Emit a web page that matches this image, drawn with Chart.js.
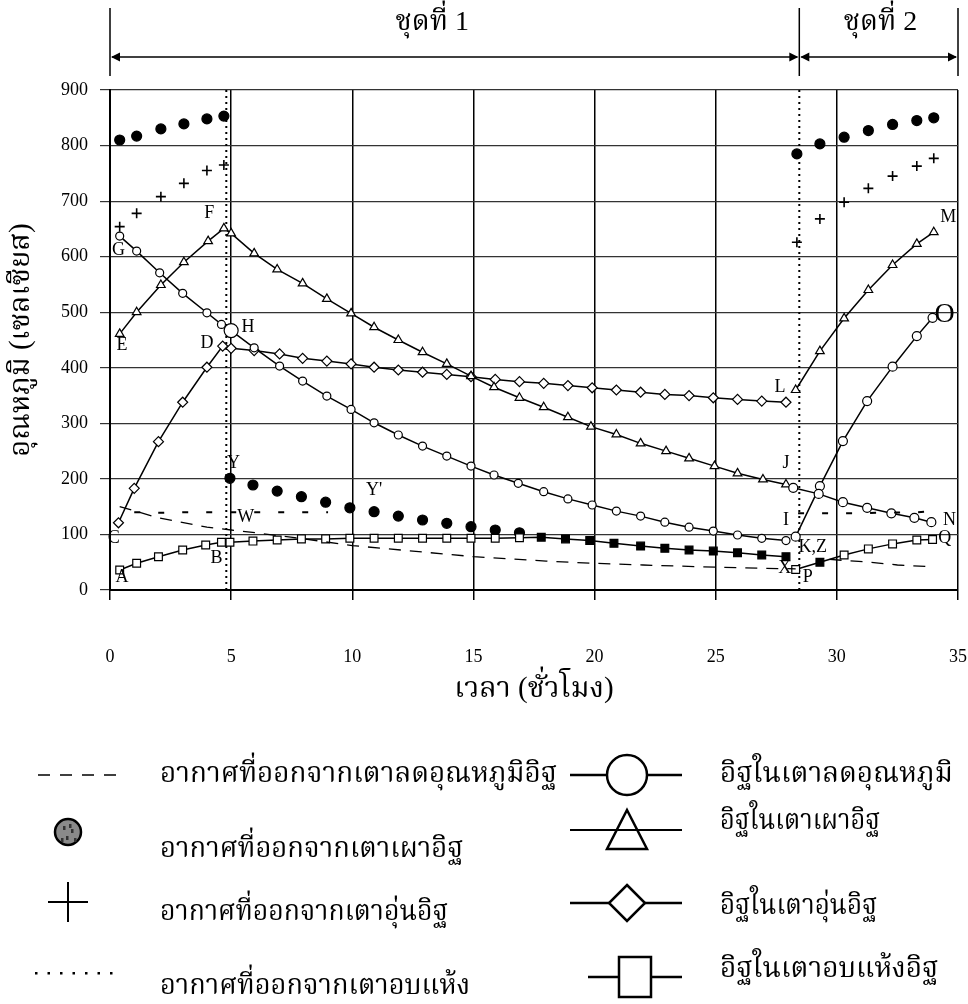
<!DOCTYPE html>
<html lang="th">
<head>
<meta charset="UTF-8">
<title>อุณหภูมิ เตาเผาอิฐ</title>
<script src="https://cdn.jsdelivr.net/npm/chart.js"></script>
<style>
  body { margin: 0; background: #fff; overflow: hidden; }
  #wrap { width: 968px; height: 1004px; position: relative; }
</style>
</head>
<body>
<div id="wrap"><canvas id="chart"></canvas></div>
<script>
// ---- data (hours / degrees C) ----
const xTicks = [0, 5, 10, 15, 20, 25, 30, 35];
const yTicks = [0, 100, 200, 300, 400, 500, 600, 700, 800, 900];

// batch 1 start (before the first dotted line) and batch 2 sample times
const tStart1 = [0.4, 1.1, 2.1, 3.05, 4.0, 4.7];
const tBatch2 = [28.35, 29.3, 30.3, 31.3, 32.3, 33.3, 34.0];

// air leaving cooling kiln (dashed)
const coolAirX1 = [0.4, 2, 4, 5, 6, 8, 10, 12, 15, 18, 20, 22, 25, 28.3];
const coolAirY1 = [150, 130, 113, 108, 103, 92, 80, 72, 60, 52, 48, 45, 41, 38];
const coolAirX2 = [29.7, 31.4, 32.5, 33.8];
const coolAirY2 = [55, 50, 45, 42];

// air leaving firing kiln (filled dots)
const fireAirY1 = [810, 817, 830, 839, 848, 853];
const fireAirX1b = [4.95, 5.9, 6.9, 7.9, 8.9, 9.9, 10.9, 11.9, 12.9, 13.9, 14.9, 15.9, 16.9];
const fireAirY1b = [201, 189, 178, 168, 158, 148, 141, 133, 126, 120, 114, 108, 103];
const fireAirY2 = [785, 803, 815, 827, 838, 845, 850];

// air leaving warming kiln (+)
const warmAirY1 = [654, 678, 708, 732, 755, 765];
const warmAirY2 = [626, 668, 698, 723, 745, 763, 777];

// air leaving dryer (dotted)
const dryAirX1 = [1.0, 2.0, 3.0, 4.0, 5.0, 6.0, 7.0, 8.0, 9.0];
const dryAirY1 = [140, 139, 140, 140, 140, 140, 140, 140, 140];
const dryAirX2 = [28.4, 29.4, 30.4, 33.3, 34.0];
const dryAirY2 = [138, 138, 138, 140, 142];

// bricks in cooling kiln (circles)
const coolBrickX1 = [0.4, 1.1, 2.05, 3.0, 4.0, 4.6, 5.0, 5.95, 7.0, 7.95, 8.95, 9.95, 10.9, 11.9, 12.9,
  13.9, 14.9, 15.85, 16.85, 17.9, 18.9, 19.9, 20.9, 21.9, 22.9, 23.9, 24.9, 25.9, 26.9, 27.9];
const coolBrickY1 = [637, 610, 571, 534, 499, 478, 467, 436, 403, 376, 349, 325, 301, 279, 259,
  241, 223, 207, 192, 177, 164, 153, 142, 133, 122, 113, 106, 99, 93, 89];
const coolBrickX2 = [28.2, 29.25, 30.25, 31.25, 32.25, 33.2, 33.9];
const coolBrickY2 = [184, 173, 158, 148, 138, 130, 122];
const riseBrickX2 = [28.3, 29.3, 30.25, 31.25, 32.3, 33.3, 33.95];
const riseBrickY2 = [96, 187, 268, 340, 402, 457, 490];

// bricks in firing kiln (triangles)
const fireBrickX1 = [0.4, 1.1, 2.1, 3.05, 4.05, 4.7, 5.0, 5.95, 6.9, 7.95, 8.95, 9.95, 10.9, 11.9, 12.9,
  13.9, 14.9, 15.85, 16.9, 17.9, 18.9, 19.85, 20.9, 21.9, 22.95, 23.9, 24.95, 25.9, 26.95, 27.9];
const fireBrickY1 = [461, 500, 549, 590, 628, 651, 642, 606, 577, 552, 524, 498, 473, 450, 428,
  407, 385, 365, 346, 329, 311, 294, 280, 264, 250, 237, 223, 210, 199, 190];
const fireBrickX2 = [28.3, 29.3, 30.3, 31.3, 32.3, 33.3, 34.0];
const fireBrickY2 = [360, 430, 489, 540, 585, 623, 644];

// bricks in warming kiln (diamonds)
const warmBrickX1 = [0.35, 1.0, 2.0, 3.0, 4.0, 4.65, 5.0, 5.95, 7.0, 7.95, 8.95, 9.95, 10.9, 11.9, 12.9,
  13.9, 14.9, 15.9, 16.9, 17.9, 18.9, 19.9, 20.9, 21.9, 22.9, 23.9, 24.9, 25.9, 26.9, 27.9];
const warmBrickY1 = [121, 183, 267, 338, 401, 439, 435, 431, 425, 417, 412, 407, 401, 396, 392,
  388, 384, 379, 375, 372, 368, 364, 360, 356, 352, 350, 346, 343, 340, 338];

// bricks in dryer (squares)
const dryBrickX1 = [0.4, 1.1, 2.0, 3.0, 3.95, 4.6, 4.95, 5.9, 6.9, 7.9, 8.9, 9.9, 10.9, 11.9, 12.9,
  13.9, 14.9, 15.9, 16.9, 17.8, 18.8, 19.8, 20.8, 21.9, 22.9, 23.9, 24.9, 25.9, 26.9, 27.9];
const dryBrickY1 = [36, 48, 60, 72, 81, 86, 86, 88, 90, 92, 92, 93, 93, 93, 93,
  93, 93, 93, 94, 95, 92, 89, 84, 79, 75, 72, 70, 67, 63, 60];
const dryBrickX2 = [28.3, 29.3, 30.3, 31.3, 32.3, 33.3, 33.95];
const dryBrickY2 = [37, 50, 63, 74, 83, 90, 91];

// batch boundaries (dotted verticals) and point letters
const batchLines = [4.8, 28.45];
const batchNames = ['ชุดที่ 1', 'ชุดที่ 2'];
const pointLabels = [
  ['A', 0.5, 23], ['B', 4.4, 58], ['C', 0.15, 94], ['D', 4.0, 445], ['E', 0.5, 441],
  ['F', 4.1, 678], ['G', 0.35, 612], ['H', 5.7, 473], ['I', 27.9, 126], ['J', 27.9, 228],
  ['K,Z', 29.0, 77], ['L', 27.65, 365], ['M', 34.6, 671], ['N', 34.65, 126], ['O', 34.45, 495],
  ['P', 28.8, 23], ['Q', 34.45, 94], ['W', 5.6, 131], ['X', 27.85, 40], ['Y', 5.1, 228], ["Y'", 10.9, 180]
];

const legendLeft = ['อากาศที่ออกจากเตาลดอุณหภูมิอิฐ', 'อากาศที่ออกจากเตาเผาอิฐ', 'อากาศที่ออกจากเตาอุ่นอิฐ', 'อากาศที่ออกจากเตาอบแห้ง'];
const legendRight = ['อิฐในเตาลดอุณหภูมิ', 'อิฐในเตาเผาอิฐ', 'อิฐในเตาอุ่นอิฐ', 'อิฐในเตาอบแห้งอิฐ'];

// ---- helpers ----
const SERIF = '"Liberation Serif", "Noto Serif Thai", "Noto Sans Thai", serif';
const pts = (xs, ys) => xs.map((x, i) => ({ x: x, y: ys[i] }));

function lineSet(data, style, extra) {
  return Object.assign({
    data: data,
    borderColor: '#000',
    borderWidth: 1.5,
    pointStyle: style,
    pointRadius: 4,
    pointBorderColor: '#000',
    pointBackgroundColor: '#fff',
    pointBorderWidth: 1.2,
    tension: 0
  }, extra || {});
}

const filledFromHour = 17.5;
const dryFill1 = dryBrickX1.map(x => x >= filledFromHour ? '#000' : '#fff');
const dryFill2 = dryBrickX2.map((x, i) => i === 1 ? '#000' : '#fff');
const coolRadius1 = coolBrickX1.map((x, i) => i === 6 ? 7 : 4);

const datasets = [
  lineSet(pts(coolAirX1, coolAirY1), false, { borderDash: [12, 9], pointRadius: 0, borderWidth: 1.3 }),
  lineSet(pts(coolAirX2, coolAirY2), false, { borderDash: [12, 9], pointRadius: 0, borderWidth: 1.3 }),
  lineSet(pts(dryAirX1, dryAirY1), false, { borderDash: [6, 18], pointRadius: 0, borderWidth: 2 }),
  lineSet(pts(dryAirX2, dryAirY2), false, { borderDash: [6, 18], pointRadius: 0, borderWidth: 2 }),
  lineSet(pts(coolBrickX1, coolBrickY1), 'circle', { pointRadius: coolRadius1 }),
  lineSet(pts(coolBrickX2, coolBrickY2), 'circle', { pointRadius: 4.5 }),
  lineSet(pts(riseBrickX2, riseBrickY2), 'circle', { pointRadius: 4.5 }),
  lineSet(pts(fireBrickX1, fireBrickY1), 'triangle', { pointRadius: 5 }),
  lineSet(pts(fireBrickX2, fireBrickY2), 'triangle', { pointRadius: 5 }),
  lineSet(pts(warmBrickX1, warmBrickY1), 'rectRot', { pointRadius: 5 }),
  lineSet(pts(dryBrickX1, dryBrickY1), 'rect', { pointRadius: 5.5, pointBackgroundColor: dryFill1 }),
  lineSet(pts(dryBrickX2, dryBrickY2), 'rect', { pointRadius: 5.5, pointBackgroundColor: dryFill2 }),
  lineSet(pts(tStart1, fireAirY1), 'circle', { showLine: false, pointRadius: 5, pointBackgroundColor: '#000' }),
  lineSet(pts(fireAirX1b, fireAirY1b), 'circle', { showLine: false, pointRadius: 5, pointBackgroundColor: '#000' }),
  lineSet(pts(tBatch2, fireAirY2), 'circle', { showLine: false, pointRadius: 5, pointBackgroundColor: '#000' }),
  lineSet(pts(tStart1, warmAirY1), 'cross', { showLine: false, pointRadius: 5, pointBorderWidth: 1.6 }),
  lineSet(pts(tBatch2, warmAirY2), 'cross', { showLine: false, pointRadius: 5, pointBorderWidth: 1.6 })
];

// ---- custom drawing: batch lines, letters, top arrows, legend ----
function arrowHead(ctx, x, y, dir) {
  ctx.beginPath();
  ctx.moveTo(x, y);
  ctx.lineTo(x - dir * 9, y - 4.5);
  ctx.lineTo(x - dir * 9, y + 4.5);
  ctx.closePath();
  ctx.fill();
}

const decor = {
  id: 'decor',
  beforeDatasetsDraw(chart) {
    const { ctx, chartArea: a, scales: { x } } = chart;
    ctx.save();
    ctx.strokeStyle = '#000';
    ctx.lineWidth = 2;
    ctx.setLineDash([2, 4]);
    batchLines.forEach(b => {
      const px = x.getPixelForValue(b);
      ctx.beginPath();
      ctx.moveTo(px, a.bottom);
      ctx.lineTo(px, a.top);
      ctx.stroke();
    });
    ctx.restore();
  },
  afterDraw(chart) {
    const { ctx, scales: { x, y } } = chart;
    ctx.save();
    ctx.fillStyle = '#000';
    ctx.strokeStyle = '#000';

    // point letters
    ctx.font = '18px ' + SERIF;
    ctx.textAlign = 'center';
    ctx.textBaseline = 'middle';
    pointLabels.forEach(([t, lx, ly]) => {
      if (t === 'O') {
        ctx.save();
        ctx.font = '28px ' + SERIF;
        ctx.fillText(t, x.getPixelForValue(lx), y.getPixelForValue(ly));
        ctx.restore();
      } else {
        ctx.fillText(t, x.getPixelForValue(lx), y.getPixelForValue(ly));
      }
    });

    // batch span arrows on top
    const edges = [0, batchLines[1], 35].map(v => x.getPixelForValue(v));
    ctx.lineWidth = 1.5;
    edges.forEach(px => {
      ctx.beginPath();
      ctx.moveTo(px, 8);
      ctx.lineTo(px, 76);
      ctx.stroke();
    });
    const ay = 57;
    for (let i = 0; i < 2; i++) {
      ctx.beginPath();
      ctx.moveTo(edges[i] + 2, ay);
      ctx.lineTo(edges[i + 1] - 2, ay);
      ctx.stroke();
      arrowHead(ctx, edges[i] + 1, ay, -1);
      arrowHead(ctx, edges[i + 1] - 1, ay, 1);
    }
    ctx.font = '28px ' + SERIF;
    ctx.fillText(batchNames[0], x.getPixelForValue(13.3), 23);
    ctx.fillText(batchNames[1], x.getPixelForValue(31.8), 23);

    // legend, left column
    const rowL = [775, 850, 913, 987];
    const rowR = [775, 822, 907, 970];
    ctx.lineWidth = 1.5;
    ctx.setLineDash([12, 10]);
    ctx.beginPath(); ctx.moveTo(38, 775); ctx.lineTo(123, 775); ctx.stroke();
    ctx.setLineDash([]);

    ctx.beginPath(); ctx.arc(68, 832, 13, 0, Math.PI * 2);
    ctx.fillStyle = '#8a8a8a'; ctx.fill();
    ctx.lineWidth = 2.5; ctx.stroke();
    ctx.fillStyle = '#333';
    [[63, 826], [71, 829], [66, 836], [74, 838], [61, 838], [69, 824]].forEach(([sx, sy]) => {
      ctx.fillRect(sx, sy, 2.5, 4);
    });
    ctx.fillStyle = '#000';

    ctx.lineWidth = 2;
    ctx.beginPath();
    ctx.moveTo(48, 902); ctx.lineTo(88, 902);
    ctx.moveTo(68, 882); ctx.lineTo(68, 922);
    ctx.stroke();

    for (let i = 0; i < 7; i++) ctx.fillRect(35 + i * 12.5, 972, 2.5, 2.5);

    ctx.font = '28px ' + SERIF;
    ctx.textAlign = 'left';
    const wL = [397, 303, 288, 310];
    legendLeft.forEach((t, i) => ctx.fillText(t, 160, rowL[i], wL[i]));

    // legend, right column
    const cx = 627;
    ctx.lineWidth = 2.5;
    // circle
    ctx.beginPath();
    ctx.moveTo(570, 775); ctx.lineTo(607, 775);
    ctx.moveTo(647, 775); ctx.lineTo(682, 775);
    ctx.stroke();
    ctx.beginPath(); ctx.arc(cx, 775, 20, 0, Math.PI * 2); ctx.stroke();
    // triangle
    ctx.lineWidth = 2.5;
    ctx.beginPath();
    ctx.moveTo(cx, 810); ctx.lineTo(647, 849); ctx.lineTo(607, 849); ctx.closePath();
    ctx.stroke();
    ctx.lineWidth = 1.8;
    ctx.beginPath(); ctx.moveTo(570, 830); ctx.lineTo(682, 830); ctx.stroke();
    ctx.lineWidth = 2.5;
    // diamond
    ctx.beginPath();
    ctx.moveTo(570, 903); ctx.lineTo(609, 903);
    ctx.moveTo(645, 903); ctx.lineTo(682, 903);
    ctx.stroke();
    ctx.beginPath();
    ctx.moveTo(cx, 885); ctx.lineTo(645, 903); ctx.lineTo(cx, 921); ctx.lineTo(609, 903); ctx.closePath();
    ctx.stroke();
    // square
    ctx.beginPath();
    ctx.moveTo(588, 977); ctx.lineTo(619, 977);
    ctx.moveTo(651, 977); ctx.lineTo(682, 977);
    ctx.stroke();
    ctx.strokeRect(619, 957, 32, 40);

    ctx.fillStyle = '#000';
    const wR = [237, 160, 157, 225];
    legendRight.forEach((t, i) => ctx.fillText(t, 720, rowR[i], wR[i]));
    ctx.restore();
  }
};

new Chart(document.getElementById('chart'), {
  type: 'line',
  data: { datasets: datasets },
  plugins: [decor],
  options: {
    responsive: true,
    maintainAspectRatio: false,
    animation: false,
    layout: { autoPadding: false, padding: { top: 90, right: 10, left: 0, bottom: 0 } },
    plugins: { legend: { display: false }, tooltip: { enabled: false } },
    scales: {
      x: {
        type: 'linear',
        min: 0,
        max: 35,
        afterBuildTicks: s => { s.ticks = xTicks.map(v => ({ value: v })); },
        afterFit: s => { s.height = 414; s.paddingRight = 0; s.paddingLeft = 0; },
        grid: { color: '#000', lineWidth: 1.5, tickLength: 10 },
        border: { color: '#000', width: 2 },
        ticks: { color: '#000', padding: 46, font: { family: SERIF, size: 18 } },
        title: {
          display: true,
          text: 'เวลา (ชั่วโมง)',
          color: '#000',
          font: { family: SERIF, size: 29 },
          padding: { top: 0, bottom: 297 }
        }
      },
      y: {
        min: 0,
        max: 900,
        afterBuildTicks: s => { s.ticks = yTicks.map(v => ({ value: v })); },
        afterFit: s => { s.width = 110; },
        grid: { color: '#333', lineWidth: 1.2, tickLength: 10 },
        border: { color: '#000', width: 2 },
        ticks: { color: '#000', padding: 12, font: { family: SERIF, size: 18 } },
        title: {
          display: true,
          text: 'อุณหภูมิ (เซลเซียส)',
          color: '#000',
          font: { family: SERIF, size: 29 },
          padding: { top: 4, bottom: 0 }
        }
      }
    }
  }
});
</script>
</body>
</html>
